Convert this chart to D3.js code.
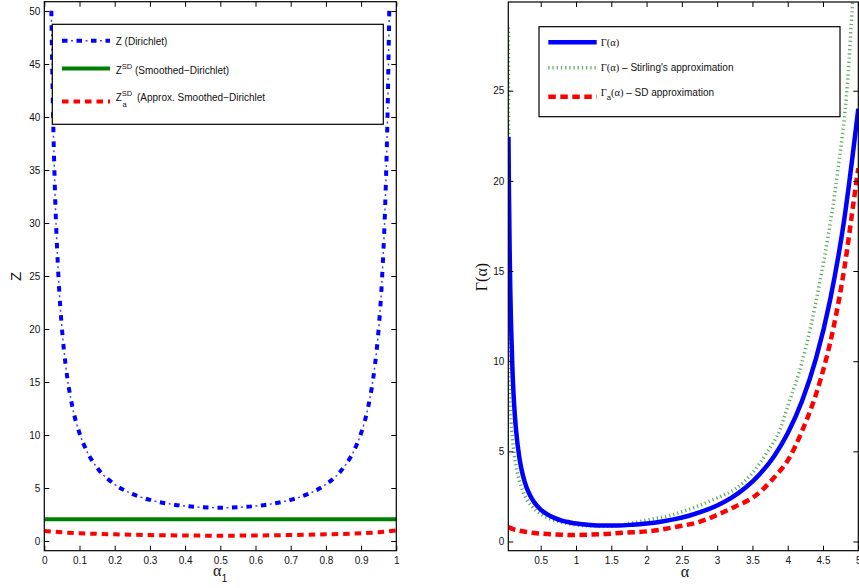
<!DOCTYPE html>
<html>
<head>
<meta charset="utf-8">
<script src="https://cdn.jsdelivr.net/npm/d3@7/dist/d3.min.js"></script>
<style>
  html, body { margin: 0; padding: 0; background: #fff; }
  svg { display: block; }
  text { font-family: "Liberation Sans", Arial, sans-serif; fill: #111; }
  .serif { font-family: "Liberation Serif", "Times New Roman", serif; }
</style>
</head>
<body>
<svg id="fig" width="859" height="588"></svg>
<script>
// ---------- Left panel: normalisers as a function of alpha_1 ----------
const alpha1 = [0.02, 0.025, 0.03, 0.04, 0.05, 0.06, 0.07, 0.08, 0.1, 0.12, 0.15, 0.2, 0.25, 0.3, 0.35, 0.4, 0.45,
                0.5,
                0.55, 0.6, 0.65, 0.7, 0.75, 0.8, 0.85, 0.88, 0.9, 0.92, 0.93, 0.94, 0.95, 0.96, 0.97, 0.975, 0.98];
const zDirichlet = [50.03, 40.04, 33.38, 25.07, 20.08, 16.77, 14.40, 12.63, 10.17, 8.53, 6.92, 5.34, 4.44, 3.88, 3.53, 3.30, 3.18,
                    3.14,
                    3.18, 3.30, 3.53, 3.88, 4.44, 5.34, 6.92, 8.53, 10.17, 12.63, 14.40, 16.77, 20.08, 25.07, 33.38, 40.04, 50.03];
const alphaSD = [0, 0.25, 0.5, 0.75, 1];
const zSmoothed = [2.05, 2.05, 2.05, 2.05, 2.05];
const alphaApprox = [0, 0.05, 0.1, 0.2, 0.3, 0.4, 0.5, 0.6, 0.7, 0.8, 0.9, 0.95, 1];
const zApprox = [0.95, 0.82, 0.73, 0.63, 0.56, 0.52, 0.50, 0.52, 0.56, 0.63, 0.73, 0.83, 0.99];
const leftXTicks = [0, 0.1, 0.2, 0.3, 0.4, 0.5, 0.6, 0.7, 0.8, 0.9, 1];
const leftYTicks = [0, 5, 10, 15, 20, 25, 30, 35, 40, 45, 50];

// ---------- Right panel: Gamma function and its approximations ----------
const alphaGamma = [0.0435, 0.05, 0.06, 0.07, 0.08, 0.1, 0.12, 0.15, 0.2, 0.25, 0.3, 0.35, 0.4, 0.5, 0.6, 0.7, 0.8, 0.9,
                    1.0, 1.2, 1.4, 1.6, 1.8, 2.0, 2.2, 2.4, 2.6, 2.8, 3.0, 3.2, 3.4, 3.6, 3.8, 4.0, 4.2, 4.4, 4.6, 4.8, 5.0];
const gammaValues = [22.45, 19.47, 16.15, 13.77, 12.00, 9.51, 7.86, 6.22, 4.59, 3.63, 2.99, 2.55, 2.22, 1.77, 1.49, 1.30, 1.16, 1.07,
                     1.00, 0.92, 0.89, 0.89, 0.93, 1.00, 1.10, 1.24, 1.43, 1.68, 2.00, 2.42, 2.98, 3.72, 4.69, 6.00, 7.76, 10.14, 13.38, 17.84, 24.00];
const alphaStirling = [0.0435, 0.05, 0.06, 0.07, 0.08, 0.1, 0.12, 0.15, 0.2, 0.25, 0.3, 0.4, 0.5, 0.6, 0.8, 1.0, 1.2, 1.5,
                       1.8, 2.05, 2.3, 2.5, 3.0, 3.25, 3.5, 3.7, 3.9, 4.0, 4.2, 4.45, 4.7, 4.85, 4.92, 5.0];
const stirlingValues = [28.5, 9.18, 8.14, 7.33, 6.68, 5.70, 4.98, 4.19, 3.33, 2.76, 2.36, 1.84, 1.52, 1.31, 1.05, 0.92, 0.86, 0.85,
                        1.03, 1.23, 1.41, 1.65, 2.42, 2.90, 3.80, 4.90, 6.30, 7.50, 9.90, 14.3, 20.3, 25.6, 29.9, 33.5];
const alphaSDApprox = [0.041, 0.1, 0.2, 0.3, 0.466, 0.7, 0.94, 1.2, 1.43, 1.7, 2.05, 2.43, 2.757, 2.945, 3.253, 3.536, 3.795, 4.018,
                       4.2, 4.47, 4.64, 4.8, 4.95, 5.0];
const sdApproxValues = [0.80, 0.70, 0.60, 0.53, 0.45, 0.39, 0.36, 0.38, 0.42, 0.49, 0.58, 0.82, 1.10, 1.38, 1.93, 2.52, 3.50, 4.61,
                        6.10, 9.05, 11.7, 15.1, 19.3, 20.7];
const rightXTicks = [0.5, 1, 1.5, 2, 2.5, 3, 3.5, 4, 4.5, 5];
const rightYTicks = [0, 5, 10, 15, 20, 25];

// ---------- line styles ----------
const BLUE = "#0000ff", GREEN = "#008000", RED = "#ff0000", LIGHTGREEN = "#3f9f3f";
const styles = {
  dirichlet: [
    { stroke: BLUE, width: 4, dash: "5.5 9", offset: 0 },
    { stroke: BLUE, width: 1.5, dash: "2 12.5", offset: 5.5, opacity: 0.75 }
  ],
  smoothed: [{ stroke: GREEN, width: 4 }],
  approxL: [{ stroke: RED, width: 4, dash: "6.5 5" }],
  gamma: [{ stroke: BLUE, width: 4.5 }],
  stirling: [{ stroke: LIGHTGREEN, width: 3.5, dash: "1.2 3", opacity: 0.85 }],
  approxR: [{ stroke: RED, width: 4.5, dash: "7.5 4.5" }]
};

const svg = d3.select("#fig");
svg.append("rect").attr("width", 859).attr("height", 588).attr("fill", "#fff");

const fmt = d => d3.format("~g")(+(+d).toFixed(2));

function strokePath(g, dStr, layers) {
  layers.forEach(s => {
    const p = g.append("path").attr("d", dStr)
      .attr("fill", "none").attr("stroke", s.stroke)
      .attr("stroke-width", s.width).attr("stroke-linecap", "butt").attr("stroke-linejoin", "round");
    if (s.dash) p.attr("stroke-dasharray", s.dash);
    if (s.offset) p.attr("stroke-dashoffset", s.offset);
    if (s.opacity) p.attr("stroke-opacity", s.opacity);
  });
}

function panel(cfg) {
  const x = d3.scaleLinear().domain(cfg.xDomain).range(cfg.xRange);
  const y = d3.scaleLinear().domain(cfg.yDomain).range(cfg.yRange);
  const [x0, x1] = cfg.xRange, [y1, y0] = cfg.yRange;
  const g = svg.append("g");

  svg.append("clipPath").attr("id", cfg.id + "-clip")
    .append("rect").attr("x", x0).attr("y", y0).attr("width", x1 - x0).attr("height", y1 - y0);

  const plot = g.append("g").attr("clip-path", `url(#${cfg.id}-clip)`);
  const line = d3.line().x(d => x(d[0])).y(d => y(d[1])).curve(d3.curveMonotoneX);
  cfg.series.forEach(s => {
    const pts = s.xs.map((v, i) => [v, s.ys[i]]);
    strokePath(plot, line(pts), s.style);
  });

  // axes with inward ticks on all four sides
  const bottom = g.append("g").attr("transform", `translate(0,${y1})`)
    .call(d3.axisBottom(x).tickValues(cfg.xTicks).tickFormat(fmt).tickSizeInner(-5).tickSizeOuter(0).tickPadding(6.5));
  const left = g.append("g").attr("transform", `translate(${x0},0)`)
    .call(d3.axisLeft(y).tickValues(cfg.yTicks).tickFormat(fmt).tickSizeInner(-5).tickSizeOuter(0).tickPadding(4));
  const top = g.append("g").attr("transform", `translate(0,${y0})`)
    .call(d3.axisTop(x).tickValues(cfg.xTicks).tickFormat("").tickSizeInner(-5).tickSizeOuter(0));
  const right = g.append("g").attr("transform", `translate(${x1},0)`)
    .call(d3.axisRight(y).tickValues(cfg.yTicks).tickFormat("").tickSizeInner(-5).tickSizeOuter(0));
  [bottom, left, top, right].forEach(a => {
    a.select(".domain").remove();
    a.selectAll("line").attr("stroke", "#000").attr("stroke-width", 1);
    a.selectAll("text").attr("font-size", 10).attr("fill", "#111")
      .attr("font-family", "Liberation Sans, Arial, sans-serif");
  });

  g.append("rect").attr("x", x0).attr("y", y0).attr("width", x1 - x0).attr("height", y1 - y0)
    .attr("fill", "none").attr("stroke", "#000").attr("stroke-width", 1.2);
  return { x, y, g };
}

// ---------- left panel ----------
const L = panel({
  id: "left",
  xDomain: [0, 1], xRange: [44.3, 396.3],
  yDomain: [-0.915, 50.88], yRange: [550.7, 1.7],
  xTicks: leftXTicks, yTicks: leftYTicks,
  series: [
    { xs: alpha1, ys: zDirichlet, style: styles.dirichlet },
    { xs: alphaSD, ys: zSmoothed, style: styles.smoothed },
    { xs: alphaApprox, ys: zApprox, style: styles.approxL }
  ]
});

// axis labels
svg.append("text").attr("transform", "translate(20.5,276.5) rotate(-90)")
  .attr("text-anchor", "middle").attr("font-size", 15).text("Z");
const a1 = svg.append("text").attr("x", 213).attr("y", 575.5).attr("font-size", 16);
a1.append("tspan").attr("class", "serif").text("α");
a1.append("tspan").attr("font-size", 10.5).attr("dy", 6).text("1");

// legend
const legL = svg.append("g");
legL.append("rect").attr("x", 52.3).attr("y", 24.3).attr("width", 331).attr("height", 100)
  .attr("fill", "#fff").attr("stroke", "#000").attr("stroke-width", 1.2);
[[40.7, styles.dirichlet], [68.6, styles.smoothed], [101.5, styles.approxL]].forEach(([yy, st]) => {
  strokePath(legL, `M62,${yy}H110`, st);
});
const t1 = legL.append("text").attr("x", 115.7).attr("y", 44.5).attr("font-size", 10);
t1.text("Z (Dirichlet)");
const t2 = legL.append("text").attr("x", 115.7).attr("y", 73.5).attr("font-size", 10);
t2.append("tspan").text("Z");
t2.append("tspan").attr("font-size", 7.5).attr("dy", -5).text("SD");
t2.append("tspan").attr("dy", 5).text(" (Smoothed−Dirichlet)");
const t3 = legL.append("text").attr("x", 115.7).attr("y", 101).attr("font-size", 10);
t3.append("tspan").text("Z");
t3.append("tspan").attr("font-size", 7.5).attr("dy", -5.5).text("SD");
t3.append("tspan").attr("font-size", 7.5).attr("x", 122.5).attr("dy", 11).text("a");
t3.append("tspan").attr("x", 137).attr("dy", -5.5).text("(Approx. Smoothed−Dirichlet");

// ---------- right panel ----------
const R = panel({
  id: "right",
  xDomain: [0.041, 5], xRange: [508.3, 858.3],
  yDomain: [-0.51, 29.92], yRange: [550.7, 2],
  xTicks: rightXTicks, yTicks: rightYTicks,
  series: [
    { xs: alphaStirling, ys: stirlingValues, style: styles.stirling },
    { xs: alphaSDApprox, ys: sdApproxValues, style: styles.approxR },
    { xs: alphaGamma, ys: gammaValues, style: styles.gamma }
  ]
});

svg.append("text").attr("class", "serif").attr("transform", "translate(486.5,277) rotate(-90)")
  .attr("text-anchor", "middle").attr("font-size", 16).text("Γ(α)");
svg.append("text").attr("class", "serif").attr("x", 685).attr("y", 577)
  .attr("text-anchor", "middle").attr("font-size", 16).text("α");

const legR = svg.append("g");
legR.append("rect").attr("x", 539).attr("y", 26.7).attr("width", 301).attr("height", 90)
  .attr("fill", "#fff").attr("stroke", "#000").attr("stroke-width", 1.2);
[[42.3, styles.gamma], [67.7, styles.stirling], [96.7, styles.approxR]].forEach(([yy, st]) => {
  strokePath(legR, `M548.3,${yy}H596.7`, st);
});
const r1 = legR.append("text").attr("x", 600.7).attr("y", 46).attr("font-size", 10.5);
r1.append("tspan").attr("class", "serif").text("Γ(α)");
const r2 = legR.append("text").attr("x", 600.7).attr("y", 71.3).attr("font-size", 10.5);
r2.append("tspan").attr("class", "serif").text("Γ(α)");
r2.append("tspan").attr("font-size", 10).text(" – Stirling's approximation");
const r3 = legR.append("text").attr("x", 600.7).attr("y", 95.5).attr("font-size", 10.5);
r3.append("tspan").attr("class", "serif").text("Γ");
r3.append("tspan").attr("font-size", 7.5).attr("dy", 4.5).text("a");
r3.append("tspan").attr("class", "serif").attr("dy", -4.5).text("(α)");
r3.append("tspan").attr("font-size", 10).text(" – SD approximation");
</script>
</body>
</html>
